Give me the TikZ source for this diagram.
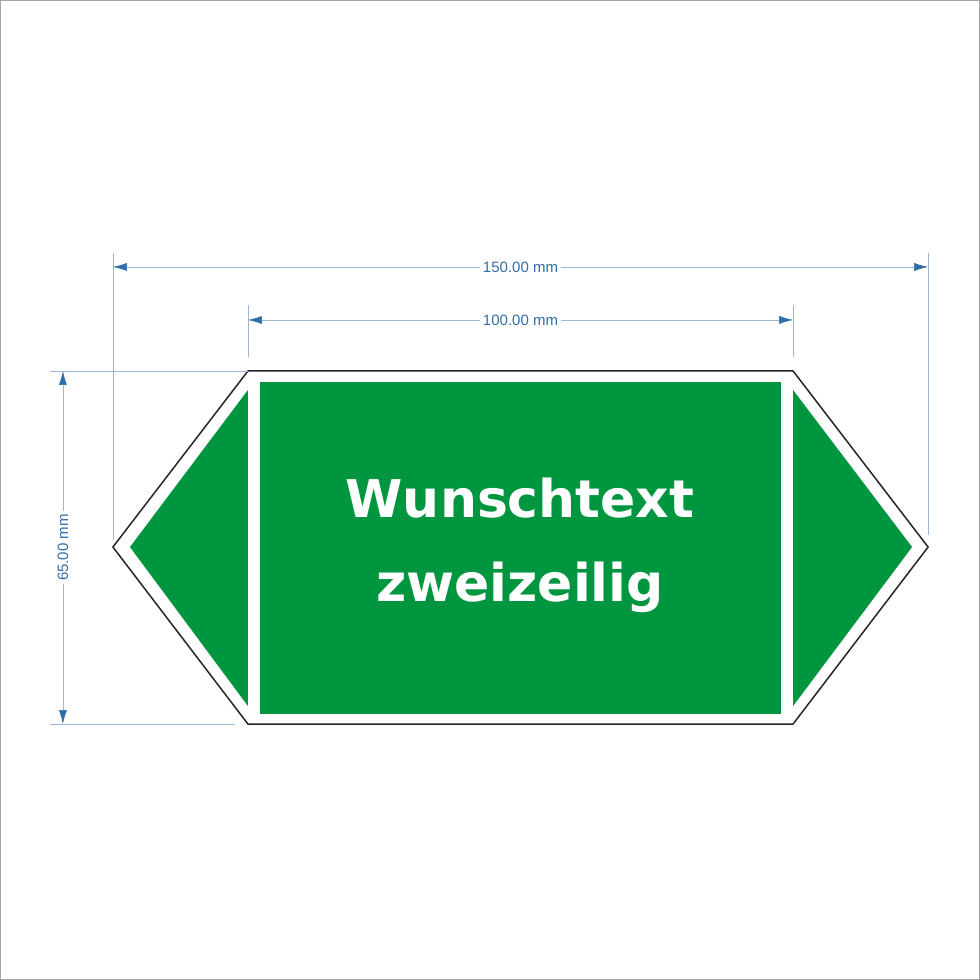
\documentclass[tikz,border=0pt]{standalone}
\usepackage{fontspec}
\setmainfont{Liberation Sans}
\newfontfamily\signfont{DejaVu Sans}
\usetikzlibrary{arrows.meta}
\definecolor{signgreen}{HTML}{009640}
\definecolor{dimblue}{HTML}{2F6EAB}
\definecolor{dimline}{HTML}{9DB8D6}
\tikzset{
  dim/.style={draw=dimline,line width=0.6pt,{Latex[length=14pt,width=8pt,color=dimblue]}-{Latex[length=14pt,width=8pt,color=dimblue]}},
  ext/.style={draw=dimline,line width=0.5pt},
  dimlabel/.style={fill=white,text=dimblue,font=\fontsize{15}{18}\selectfont,inner sep=3pt},
  greenpart/.style={fill=signgreen,draw=none}
}
\begin{document}
\begin{tikzpicture}[x=1pt,y=-1pt]
\path[draw=gray!70,fill=white,line width=0.8pt] (0.5,0.5) rectangle (979.5,979.5);
% sign
\draw[fill=white,draw=black!85,line width=1.5pt] (113,547) -- (248,371) -- (793,371) -- (928,547) -- (793,724) -- (248,724) -- cycle;
\fill[greenpart] (130,547) -- (248,390) -- (248,706) -- cycle;
\fill[greenpart] (260,382) rectangle (781,714);
\fill[greenpart] (793,390) -- (912,547) -- (793,706) -- cycle;
\node[text=white,font=\signfont\bfseries\fontsize{52}{84}\selectfont,align=center] (t) at (520,545) {Wunschtext\\zweizeilig};
% extension lines
\coordinate (e1a) at (113,253); \coordinate (e1b) at (113,540);
\coordinate (e2a) at (928,253); \coordinate (e2b) at (928,535);
\coordinate (e3a) at (248,305); \coordinate (e3b) at (248,357);
\coordinate (e4a) at (793,305); \coordinate (e4b) at (793,357);
\coordinate (e5a) at (50,371); \coordinate (e5b) at (248,371);
\coordinate (e6a) at (50,724); \coordinate (e6b) at (235,724);
\draw[ext] (e1a)--(e1b); \draw[ext] (e2a)--(e2b);
\draw[ext] (e3a)--(e3b); \draw[ext] (e4a)--(e4b);
\draw[ext] (e5a)--(e5b); \draw[ext] (e6a)--(e6b);
% dimensions
\coordinate (d1a) at (113,267); \coordinate (d1b) at (928,267);
\coordinate (d2a) at (248,320); \coordinate (d2b) at (793,320);
\coordinate (d3a) at (63,371); \coordinate (d3b) at (63,724);
\draw[dim] (d1a) -- node[dimlabel] (l1) {150.00 mm} (d1b);
\draw[dim] (d2a) -- node[dimlabel] (l2) {100.00 mm} (d2b);
\draw[dim] (d3a) -- node[dimlabel,rotate=90] (l3) {65.00 mm} (d3b);
\end{tikzpicture}
\end{document}
